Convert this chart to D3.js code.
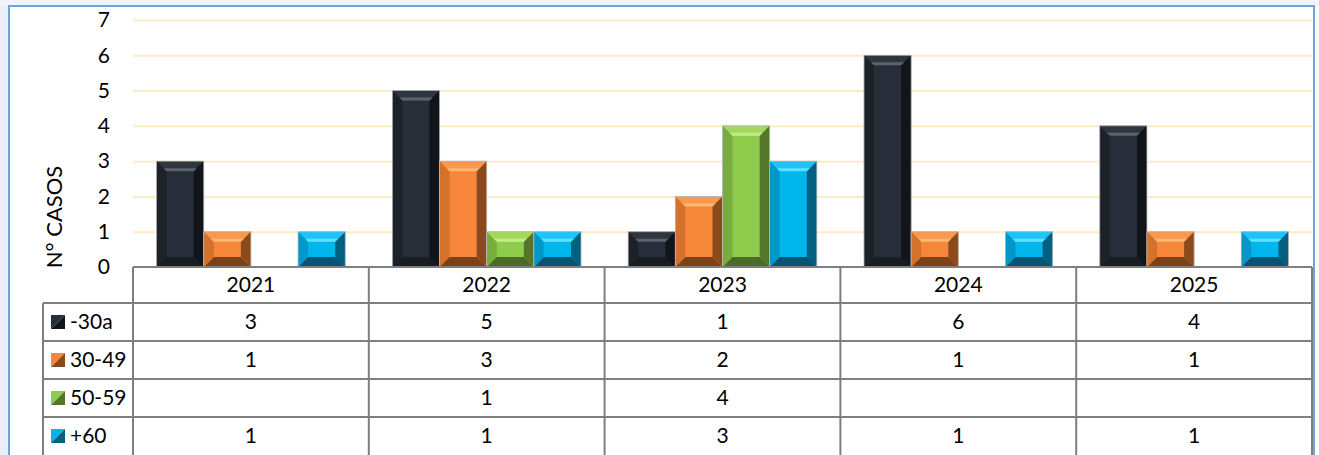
<!DOCTYPE html>
<html>
<head>
<meta charset="utf-8">
<script src="https://cdn.jsdelivr.net/npm/d3@7"></script>
<style>
  body { margin: 0; background: #fff; }
  svg { display: block; font-family: Lato, "Open Sans", sans-serif; }
</style>
</head>
<body>
<script>
// data
var years = ["2021", "2022", "2023", "2024", "2025"];
var series = ["-30a", "30-49", "50-59", "+60"];
var menos30 = [3, 5, 1, 6, 4];
var de30a49 = [1, 3, 2, 1, 1];
var de50a59 = [null, 1, 4, null, null];
var mas60 = [1, 1, 3, 1, 1];
var yTicks = [0, 1, 2, 3, 4, 5, 6, 7];
var values = [menos30, de30a49, de50a59, mas60];

// bevel colours per series
var pal = [
    {face: "#272e39", top: "#30363f", hi: "#5b626b", left: "#1d222a", right: "#111419", bottom: "#191d23"},
    {face: "#f6873a", top: "#f8994d", hi: "#fbb772", left: "#d4712b", right: "#8b4a1b", bottom: "#7c4216"},
    {face: "#8fcb4c", top: "#a3d85e", hi: "#c3ec86", left: "#78ad3c", right: "#53762a", bottom: "#4a6a25"},
    {face: "#00b5ec", top: "#1ec4f8", hi: "#5fe0ff", left: "#0297c9", right: "#035f80", bottom: "#045574"}
];

var svg = d3.select("body")
    .append("svg")
    .attr("width", 1319)
    .attr("height", 455);

// faint watermark strip outside the frame
svg.append("rect").attr("x", 0).attr("y", 0).attr("width", 9).attr("height", 455).attr("fill", "#eceefa");
svg.append("rect").attr("x", 0).attr("y", 0).attr("width", 1319).attr("height", 6).attr("fill", "#f3f4fb");

// frame
svg.append("rect")
    .attr("x", 9).attr("y", 6)
    .attr("width", 1305).attr("height", 460)
    .attr("fill", "#fff")
    .attr("stroke", "#6fa3dc")
    .attr("stroke-width", 2);

var plotL = 133, plotR = 1312, plotT = 20, base = 267;
var rowH = 38, headH = 36, legX = 43;

var x = d3.scaleBand().domain(years).range([plotL, plotR]);
var xs = d3.scaleBand().domain(series).range([0, x.bandwidth()]).paddingOuter(0.5);
var y = d3.scaleLinear().domain([0, 7]).range([base, plotT]);

// gridlines
svg.append("g")
    .attr("transform", "translate(" + plotL + ",0)")
    .call(d3.axisLeft(y).tickValues(yTicks.slice(1)).tickSize(-(plotR - plotL)).tickFormat(""))
    .call(function (g) {
        g.select(".domain").remove();
        g.selectAll("line").attr("stroke", "#fdebc6").attr("stroke-width", 2);
    });

// tick labels
svg.append("g")
    .attr("transform", "translate(110,0)")
    .call(d3.axisLeft(y).tickValues(yTicks).tickSize(0).tickPadding(0).tickFormat(d3.format("d")))
    .call(function (g) {
        g.select(".domain").remove();
        g.selectAll("text").attr("font-size", 21).attr("fill", "#000").attr("font-family", "Lato, 'Open Sans', sans-serif");
    });

// axis title
svg.append("text")
    .attr("transform", "translate(62,217) rotate(-90)")
    .attr("text-anchor", "middle")
    .attr("font-size", 22)
    .attr("fill", "#000")
    .text("N° CASOS");

// bevelled bar
function bevelBar(g, bx, by, w, h, p) {
    var b = 10, bt = Math.min(10, h / 2);
    var bar = g.append("g");
    bar.append("rect").attr("x", bx).attr("y", by).attr("width", w).attr("height", h).attr("fill", p.face);
    var poly = function (pts, fill) {
        bar.append("polygon").attr("points", pts.map(function (d) { return d.join(","); }).join(" ")).attr("fill", fill);
    };
    poly([[bx, by], [bx + w, by], [bx + w - b, by + bt], [bx + b, by + bt]], p.top);
    poly([[bx, by + h], [bx + w, by + h], [bx + w - b, by + h - bt], [bx + b, by + h - bt]], p.bottom);
    poly([[bx, by], [bx + b, by + bt], [bx + b, by + h - bt], [bx, by + h]], p.left);
    poly([[bx + w, by], [bx + w - b, by + bt], [bx + w - b, by + h - bt], [bx + w, by + h]], p.right);
    // light stripe at the lower edge of the top bevel
    poly([[bx + b - 3, by + bt - 3], [bx + w - b + 3, by + bt - 3], [bx + w - b, by + bt], [bx + b, by + bt]], p.hi);
    bar.append("rect").attr("x", bx).attr("y", by).attr("width", w).attr("height", h)
        .attr("fill", "none").attr("stroke", "#b8b8b8").attr("stroke-width", 0.8);
}

var bars = svg.append("g");
values.forEach(function (vals, si) {
    vals.forEach(function (v, i) {
        if (v == null) return;
        bevelBar(bars, x(years[i]) + xs(series[si]), y(v), xs.bandwidth(), y(0) - y(v), pal[si]);
    });
});

// data table
var tbl = svg.append("g").attr("font-size", 21).attr("fill", "#000");
var lineCol = "#7f7f7f";
var tableBottom = base + headH + rowH * series.length;

// horizontal lines
tbl.append("line").attr("x1", plotL).attr("x2", plotR).attr("y1", base).attr("y2", base)
    .attr("stroke", lineCol).attr("stroke-width", 2);
series.forEach(function (s, i) {
    var ry = base + headH + rowH * i;
    tbl.append("line").attr("x1", legX).attr("x2", plotR).attr("y1", ry).attr("y2", ry)
        .attr("stroke", lineCol).attr("stroke-width", 2);
});
// vertical lines
years.concat(["end"]).forEach(function (yr, i) {
    var vx = i < years.length ? x(yr) : plotR;
    tbl.append("line").attr("x1", vx).attr("x2", vx).attr("y1", base).attr("y2", tableBottom)
        .attr("stroke", lineCol).attr("stroke-width", 2);
});
tbl.append("line").attr("x1", legX).attr("x2", legX).attr("y1", base + headH).attr("y2", tableBottom)
    .attr("stroke", lineCol).attr("stroke-width", 2);

// year headers
tbl.selectAll(".yr").data(years).enter().append("text")
    .attr("x", function (d) { return x(d) + x.bandwidth() / 2; })
    .attr("y", base + headH / 2 + 7)
    .attr("text-anchor", "middle")
    .text(function (d) { return d; });

// rows
series.forEach(function (s, si) {
    var ry = base + headH + rowH * si;
    var p = pal[si];
    var k = 14, kx = 51, ky = ry + rowH / 2 - 7;
    tbl.append("polygon").attr("points", [[kx, ky], [kx + k, ky], [kx, ky + k]].map(function (d) { return d.join(","); }).join(" "))
        .attr("fill", p.face);
    tbl.append("polygon").attr("points", [[kx + k, ky], [kx + k, ky + k], [kx, ky + k]].map(function (d) { return d.join(","); }).join(" "))
        .attr("fill", p.right);
    tbl.append("text").attr("x", 70).attr("y", ry + rowH / 2 + 7).text(s);
    values[si].forEach(function (v, i) {
        if (v == null) return;
        tbl.append("text")
            .attr("x", x(years[i]) + x.bandwidth() / 2)
            .attr("y", ry + rowH / 2 + 7)
            .attr("text-anchor", "middle")
            .text(v);
    });
});
</script>
</body>
</html>
